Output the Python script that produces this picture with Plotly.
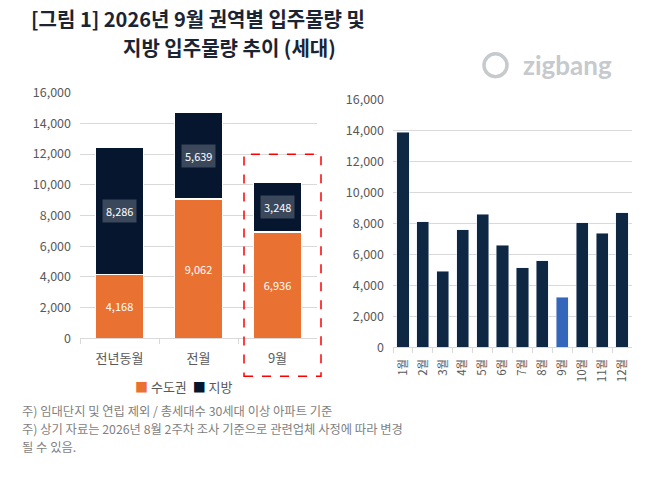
import plotly.graph_objects as go

# left chart: stacked 수도권 / 지방
cats = ["전년동월", "전월", "9월"]
sudo = [4168, 9062, 6936]
jibang = [8286, 5639, 3248]

# right chart: monthly 지방 supply
months = ["1월", "2월", "3월", "4월", "5월", "6월", "7월", "8월", "9월", "10월", "11월", "12월"]
monthly = [13890, 8100, 4900, 7600, 8600, 6600, 5150, 5600, 3248, 8050, 7350, 8700]

notes = [
    "주) 임대단지 및 연립 제외 / 총세대수 30세대 이상 아파트 기준",
    "주) 상기 자료는 2026년 8월 2주차 조사 기준으로 관련업체 사정에 따라 변경",
    "될 수 있음.",
]

W, H = 672, 477
FONT = "Noto Sans CJK KR"
GRAY = "#595959"

# the photographed page comes out a bit squashed vertically: image_y = 9 + 0.965 * page_y
Y_OFF, Y_SC = 9, 0.965


def px(x):
    return x / W


def py(y):
    # y given in reference picture pixels (from top)
    return (H - (y - Y_OFF) / Y_SC) / H


fig = go.Figure()

fig.add_trace(go.Bar(
    x=cats, y=sudo, name="수도권",
    marker=dict(color="#E97132", line=dict(color="white", width=1.5)),
    text=[f"{v:,}" for v in sudo], textposition="inside", insidetextanchor="middle",
    textfont=dict(color="white", size=11),
    xaxis="x", yaxis="y",
))
fig.add_trace(go.Bar(
    x=cats, y=jibang, name="지방",
    marker=dict(color="#06162E", line=dict(color="white", width=1.5)),
    xaxis="x", yaxis="y",
))

colors = ["#3467BB" if m == "9월" else "#0E2742" for m in months]
fig.add_trace(go.Bar(
    x=months, y=monthly, marker_color=colors,
    xaxis="x2", yaxis="y2",
))

# boxed labels on the 지방 segments
annos = []
for c, s, j in zip(cats, sudo, jibang):
    annos.append(dict(
        x=c, y=s + j / 2, xref="x", yref="y", text=f"{j:,}", showarrow=False,
        font=dict(color="white", size=11, family=FONT),
        bgcolor="#3B475A", borderpad=3,
    ))


def paper_text(x, y, text, size, color, family=FONT, xanchor="center", **kw):
    return dict(x=px(x), y=py(y), xref="paper", yref="paper", showarrow=False,
                xanchor=xanchor, yanchor="middle", text=text,
                font=dict(size=size, color=color, family=family), **kw)


annos += [
    paper_text(198, 17, "<b>[그림 1] 2026년 9월 권역별 입주물량 및</b>", 20, "#1B2433"),
    paper_text(229, 46, "<b>지방 입주물량 추이 (세대)</b>", 20, "#1B2433"),
    paper_text(567, 63, "<b>zigbang</b>", 26, "#C6C9CD", family="Lato"),
    paper_text(184, 386,
               "<span style='color:#E97132'>■</span> 수도권  "
               "<span style='color:#06162E'>■</span> 지방", 13, GRAY),
]
for i, line in enumerate(notes):
    annos.append(paper_text(20, 411.5 + 17.8 * i, line, 12.3, "#7F7F7F", xanchor="left"))

shapes = [
    dict(type="rect", xref="paper", yref="paper",
         x0=px(244), x1=px(321), y0=py(376), y1=py(153),
         line=dict(color="#FF0000", width=1.5, dash="dash")),
    dict(type="circle", xref="paper", yref="paper",
         x0=px(484), x1=px(507), y0=py(75), y1=py(52),
         line=dict(color="#C6C9CD", width=3.5)),
]

axis_common = dict(
    showline=True, linecolor="#D9D9D9", ticks="outside", tickson="boundaries",
    ticklen=5, tickcolor="#D9D9D9", showgrid=False,
)
yaxis_common = dict(
    range=[0, 16000], dtick=2000, tickformat=",", showgrid=True, gridcolor="#D9D9D9",
    zeroline=False, ticks="", ticklabelstandoff=8,
    tickfont=dict(size=12.5, color=GRAY, family=FONT),
)

fig.update_layout(
    width=W, height=H, barmode="stack", showlegend=False,
    margin=dict(l=0, r=0, t=0, b=0),
    paper_bgcolor="white", plot_bgcolor="white",
    font=dict(family=FONT, color=GRAY),
    xaxis=dict(domain=[px(80), px(317)], anchor="y", ticklabelstandoff=8,
               tickfont=dict(size=13, color=GRAY, family=FONT), **axis_common),
    yaxis=dict(domain=[py(338), py(91)], anchor="x", **yaxis_common),
    xaxis2=dict(domain=[px(393), px(632)], anchor="y2", tickangle=-90, ticklabelstandoff=6,
                tickfont=dict(size=11.5, color=GRAY, family=FONT), **axis_common),
    yaxis2=dict(domain=[py(347), py(98)], anchor="x2", **yaxis_common),
    bargap=0.39,
    annotations=annos, shapes=shapes,
)

fig.write_html(
    "out.html",
    config={"displayModeBar": False},
    post_script="document.body.style.margin='0';document.body.style.overflow='hidden';",
)
